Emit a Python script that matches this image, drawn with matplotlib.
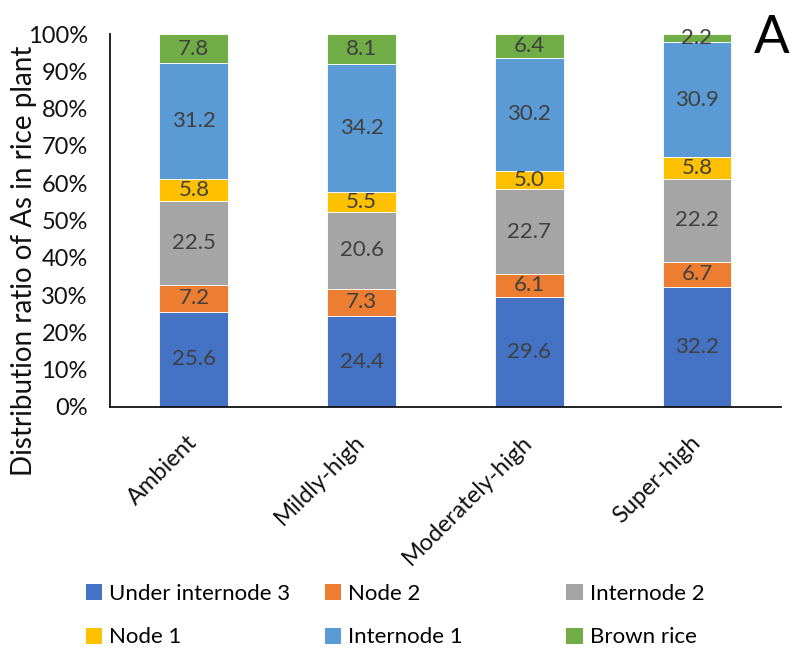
import numpy as np
import matplotlib
matplotlib.use('Agg')
from matplotlib import pyplot as plt
from matplotlib.patches import Patch

plt.rcParams['font.family'] = ['Lato', 'DejaVu Sans']

treatments = ['Ambient', 'Mildly-high', 'Moderately-high', 'Super-high']
parts = ['Under internode 3', 'Node 2', 'Internode 2', 'Node 1', 'Internode 1', 'Brown rice']
colors = ['#4472C4', '#ED7D31', '#A5A5A5', '#FFC000', '#5B9BD5', '#70AD47']

under_internode_3 = [25.6, 24.4, 29.6, 32.2]
node_2 = [7.2, 7.3, 6.1, 6.7]
internode_2 = [22.5, 20.6, 22.7, 22.2]
node_1 = [5.8, 5.5, 5.0, 5.8]
internode_1 = [31.2, 34.2, 30.2, 30.9]
brown_rice = [7.8, 8.1, 6.4, 2.2]

series = np.array([under_internode_3, node_2, internode_2, node_1, internode_1, brown_rice])
# 100% stacked: scale each column to its total
shares = series / series.sum(axis=0) * 100

fig = plt.figure(figsize=(7.92, 6.49), dpi=100)
ax = fig.add_axes([0.1389, 0.3729, 0.847, 0.5747])

x = np.arange(len(treatments))
bottom = np.zeros(len(treatments))
for i, part in enumerate(parts):
    ax.bar(x, shares[i], bottom=bottom, width=0.41, color=colors[i], edgecolor='white', linewidth=0.6, label=part)
    for j in range(len(treatments)):
        ax.text(x[j], bottom[j] + shares[i][j] / 2, f'{series[i][j]:.1f}', ha='center', va='center',
                fontsize=16, color='#404040')
    bottom += shares[i]

ax.set_xlim(-0.5, len(treatments) - 0.5)
ax.set_ylim(0, 100)
ax.set_yticks(np.arange(0, 101, 10))
ax.set_yticklabels([f'{v}%' for v in range(0, 101, 10)], fontsize=17, color='#111111')
ax.set_xticks(x)
ax.set_xticklabels(treatments, rotation=45, ha='right', va='center', rotation_mode='anchor', fontsize=17,
                   color='#111111')
ax.tick_params(axis='y', length=0, pad=16)
ax.tick_params(axis='x', length=0, pad=23)
for side in ['top', 'right']:
    ax.spines[side].set_visible(False)
for side in ['left', 'bottom']:
    ax.spines[side].set_color('#111111')
    ax.spines[side].set_linewidth(1.3)

fig.text(0.030, 0.598, 'Distribution ratio of As in rice plant', rotation=90, ha='center', va='center',
         fontsize=20, color='#111111')
fig.text(0.975, 0.941, 'A', ha='center', va='center', fontsize=38, color='black')

# legend: three equal columns, two rows each
col_x = [0.108, 0.410, 0.715]
for c in range(3):
    idx = [c, c + 3]
    handles = [Patch(facecolor=colors[k], edgecolor='none') for k in idx]
    fig.legend(handles, [parts[k] for k in idx], loc='upper left', bbox_to_anchor=(col_x[c], 0.100),
               frameon=False, fontsize=16, handlelength=0.75, handleheight=0.75, handletextpad=0.3,
               labelspacing=1.05, borderaxespad=0, borderpad=0)

fig.savefig('out.png', dpi=100)
